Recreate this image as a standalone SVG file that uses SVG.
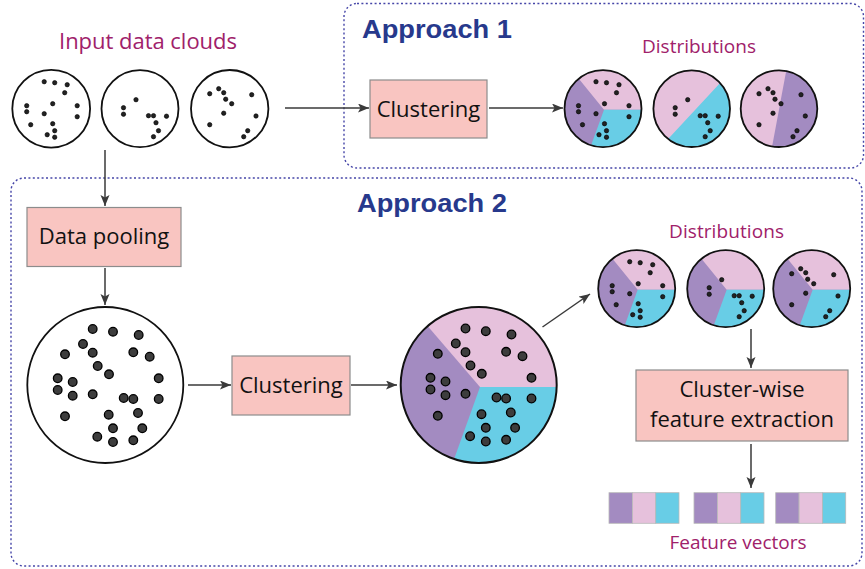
<svg xmlns="http://www.w3.org/2000/svg" xmlns:xlink="http://www.w3.org/1999/xlink" width="865" height="569" viewBox="0 0 865 569">
<style>
  .frame{fill:none;stroke:#4646a8;stroke-width:1.4;stroke-dasharray:2 2.4}
  .title{font-family:"Liberation Sans",Arial,sans-serif;font-weight:bold;font-size:26px;fill:#27398c}
  .lbl{font-family:"Open Sans","Noto Sans",sans-serif;fill:#a0216a}
  .box{fill:#f9c5c1;stroke:#8c8c8c;stroke-width:1.2}
  .btxt{font-family:"Open Sans","Noto Sans",sans-serif;font-size:22px;fill:#111;text-anchor:middle}
  .ring{fill:none;stroke:#111;stroke-width:1.8}
  .ringw{fill:#fff;stroke:#111;stroke-width:1.8}
  .pu{fill:#a38bc1}
  .pk{fill:#e6c1dc}
  .cy{fill:#68cde6}
  .sd{fill:#222;stroke:#000;stroke-width:0.6}
  .bd{fill:#3d3d3d;stroke:#000;stroke-width:1.3}
  .conn{fill:none;stroke:#3a3a3a;stroke-width:1.5}
  .seg{stroke:#b8b8b8;stroke-width:0.8}
</style>
<defs>
  <marker id="ah" markerUnits="userSpaceOnUse" markerWidth="12" markerHeight="10" refX="11" refY="4.5" orient="auto">
    <path d="M0,0 L11,4.5 L0,9 L2.5,4.5 Z" fill="#3a3a3a"/>
  </marker>
  <g id="dots1" class="sd">
    <circle cx="-7" cy="-27" r="2.2"/><circle cx="3.5" cy="-26" r="2.2"/><circle cx="16" cy="-24" r="2.2"/>
    <circle cx="13.5" cy="-16" r="2.2"/><circle cx="-24.5" cy="-3" r="2.2"/><circle cx="-24.5" cy="3" r="2.2"/>
    <circle cx="1.5" cy="-5" r="2.2"/><circle cx="-7" cy="5" r="2.2"/><circle cx="26" cy="-3" r="2.2"/>
    <circle cx="26" cy="8" r="2.2"/><circle cx="-20.5" cy="16" r="2.2"/><circle cx="1.5" cy="15" r="2.2"/>
    <circle cx="3.5" cy="22" r="2.2"/><circle cx="-4" cy="26" r="2.2"/><circle cx="3.5" cy="28.5" r="2.2"/>
  </g>
  <g id="dots2" class="sd">
    <circle cx="-4" cy="-9" r="2.2"/><circle cx="-16.5" cy="-1" r="2.2"/><circle cx="-16.5" cy="5.5" r="2.2"/>
    <circle cx="8.5" cy="7" r="2.2"/><circle cx="13.5" cy="7" r="2.2"/><circle cx="26.5" cy="7.5" r="2.2"/>
    <circle cx="16" cy="14" r="2.2"/><circle cx="18.5" cy="22" r="2.2"/><circle cx="13.5" cy="28" r="2.2"/>
  </g>
  <g id="dots3" class="sd">
    <circle cx="-20" cy="-15" r="2.2"/><circle cx="-11" cy="-20" r="2.2"/><circle cx="-6" cy="-16" r="2.2"/>
    <circle cx="-4" cy="-9.5" r="2.2"/><circle cx="2" cy="-5" r="2.2"/><circle cx="22" cy="-14" r="2.2"/>
    <circle cx="-6" cy="4.5" r="2.2"/><circle cx="26.3" cy="7.3" r="2.2"/><circle cx="-20" cy="16" r="2.2"/>
    <circle cx="18" cy="22" r="2.2"/><circle cx="14" cy="28" r="2.2"/>
  </g>
  <g id="pie3">
    <circle r="38.5" class="pu"/>
    <path class="pk" d="M1,1 L-24.2,-29.9 A38.5,38.5 0 0 1 38.5,1 Z"/>
    <path class="cy" d="M1,1 L38.5,1 A38.5,38.5 0 0 1 -11.9,36.6 Z"/>
    <circle r="38.5" class="ring"/>
  </g>
  <g id="pooldots" class="bd">
    <circle cx="92.7" cy="329" r="4.3"/><circle cx="113" cy="331.7" r="4.3"/><circle cx="138.7" cy="335" r="4.3"/>
    <circle cx="83" cy="344" r="4.3"/><circle cx="92.7" cy="352.7" r="4.3"/><circle cx="133.3" cy="352.3" r="4.3"/>
    <circle cx="149.7" cy="356.7" r="4.3"/><circle cx="65" cy="354.3" r="4.3"/><circle cx="97.7" cy="366" r="4.3"/>
    <circle cx="109" cy="374.3" r="4.3"/><circle cx="158.7" cy="378.3" r="4.3"/><circle cx="57.7" cy="378.3" r="4.3"/>
    <circle cx="72.7" cy="382" r="4.3"/><circle cx="57.7" cy="390" r="4.3"/><circle cx="72.7" cy="395.7" r="4.3"/>
    <circle cx="92.7" cy="394.3" r="4.3"/><circle cx="123.7" cy="398" r="4.3"/><circle cx="133.3" cy="399" r="4.3"/>
    <circle cx="158.7" cy="399" r="4.3"/><circle cx="65" cy="416.3" r="4.3"/><circle cx="108.7" cy="414.7" r="4.3"/>
    <circle cx="138" cy="413" r="4.3"/><circle cx="113" cy="428.3" r="4.3"/><circle cx="142.3" cy="428.3" r="4.3"/>
    <circle cx="97.3" cy="436.7" r="4.3"/><circle cx="113" cy="442" r="4.3"/><circle cx="133.3" cy="440.3" r="4.3"/>
  </g>
  <g id="fvec">
    <rect x="0" y="0" width="23.4" height="30.6" class="pu seg"/>
    <rect x="23.4" y="0" width="23.3" height="30.6" class="pk seg"/>
    <rect x="46.7" y="0" width="23.3" height="30.6" class="cy seg"/>
  </g>
</defs>

<rect width="865" height="569" fill="#fff"/>

<g id="approach1-frame">
  <rect x="344" y="3.5" width="519.5" height="164.5" rx="13" class="frame"/>
  <text x="362" y="38" class="title" textLength="150" lengthAdjust="spacingAndGlyphs">Approach 1</text>
</g>
<g id="approach2-frame">
  <rect x="11" y="178" width="851" height="388" rx="13" class="frame"/>
  <text x="357" y="212" class="title" textLength="150" lengthAdjust="spacingAndGlyphs">Approach 2</text>
</g>

<g id="input-clouds">
  <text x="59" y="48.5" class="lbl" font-size="22" textLength="178">Input data clouds</text>
  <g transform="translate(51.2,108.7)"><circle r="38.9" class="ringw"/><use xlink:href="#dots1"/></g>
  <g transform="translate(140,108.7)"><circle r="38.5" class="ringw"/><use xlink:href="#dots2"/></g>
  <g transform="translate(229.7,108.7)"><circle r="38.7" class="ringw"/><use xlink:href="#dots3"/></g>
</g>

<g id="clustering-1">
  <rect x="370" y="80" width="117" height="58" class="box"/>
  <text x="428.5" y="117" class="btxt">Clustering</text>
</g>

<g id="distributions-1">
  <text x="642" y="53" class="lbl" font-size="19" textLength="114">Distributions</text>
  <g transform="translate(603,108.7)"><use xlink:href="#pie3"/><use xlink:href="#dots1"/></g>
  <g transform="translate(691.7,108.7)">
    <circle r="38.3" class="pk"/>
    <path class="cy" d="M28.4,-25.7 A38.3,38.3 0 0 1 -23.6,30.2 Z"/>
    <circle r="38.3" class="ring"/>
    <use xlink:href="#dots2"/>
  </g>
  <g transform="translate(779,108.7)">
    <circle r="38.3" class="pk"/>
    <path class="pu" d="M7.2,-37.6 A38.3,38.3 0 0 1 -6.9,37.7 Z"/>
    <circle r="38.3" class="ring"/>
    <use xlink:href="#dots3"/>
  </g>
</g>

<g id="data-pooling">
  <rect x="27" y="207.5" width="154" height="59" class="box"/>
  <text x="104" y="244" class="btxt">Data pooling</text>
</g>

<g id="pooled-cloud">
  <circle cx="105.3" cy="385" r="78" class="ringw"/>
  <use xlink:href="#pooldots"/>
</g>

<g id="clustering-2">
  <rect x="232" y="356" width="118" height="59" class="box"/>
  <text x="291" y="393" class="btxt">Clustering</text>
</g>

<g id="clustered-cloud">
  <g transform="translate(478.7,385)">
    <circle r="78" class="pu"/>
    <path class="pk" d="M1.3,2 L-51.1,-59 A78,78 0 0 1 78,2 Z"/>
    <path class="cy" d="M1.3,2 L78,2 A78,78 0 0 1 -24.6,74 Z"/>
    <circle r="78" fill="none" stroke="#111" stroke-width="2"/>
  </g>
  <use xlink:href="#pooldots" transform="translate(372.8,-0.5)"/>
</g>

<g id="distributions-2">
  <text x="669" y="237.5" class="lbl" font-size="19" textLength="115">Distributions</text>
  <g transform="translate(636.7,288.7)"><use xlink:href="#pie3"/><use xlink:href="#dots1"/></g>
  <g transform="translate(725.7,288.7)"><use xlink:href="#pie3"/><use xlink:href="#dots2"/></g>
  <g transform="translate(811.7,288.7)"><use xlink:href="#pie3"/><use xlink:href="#dots3"/></g>
</g>

<g id="cluster-wise-feature-extraction">
  <rect x="636" y="370" width="212" height="71" class="box"/>
  <text x="742" y="397" class="btxt">Cluster-wise</text>
  <text x="742" y="427" class="btxt">feature extraction</text>
</g>

<g id="feature-vectors">
  <use xlink:href="#fvec" transform="translate(609,492.7)"/>
  <use xlink:href="#fvec" transform="translate(694,492.7)"/>
  <use xlink:href="#fvec" transform="translate(775.7,492.7)"/>
  <text x="669.5" y="548.5" class="lbl" font-size="19" textLength="137">Feature vectors</text>
</g>

<g id="connectors">
  <line x1="285" y1="108" x2="369" y2="108" class="conn" marker-end="url(#ah)"/>
  <line x1="489" y1="108" x2="563" y2="108" class="conn" marker-end="url(#ah)"/>
  <line x1="105" y1="150" x2="105" y2="206" class="conn" marker-end="url(#ah)"/>
  <line x1="105" y1="268" x2="105" y2="305" class="conn" marker-end="url(#ah)"/>
  <line x1="188" y1="385" x2="231" y2="385" class="conn" marker-end="url(#ah)"/>
  <line x1="351" y1="385" x2="397" y2="385" class="conn" marker-end="url(#ah)"/>
  <line x1="542.5" y1="327" x2="590" y2="294" class="conn" marker-end="url(#ah)"/>
  <line x1="751" y1="329" x2="751" y2="368" class="conn" marker-end="url(#ah)"/>
  <line x1="751" y1="444" x2="751" y2="488" class="conn" marker-end="url(#ah)"/>
</g>
</svg>
